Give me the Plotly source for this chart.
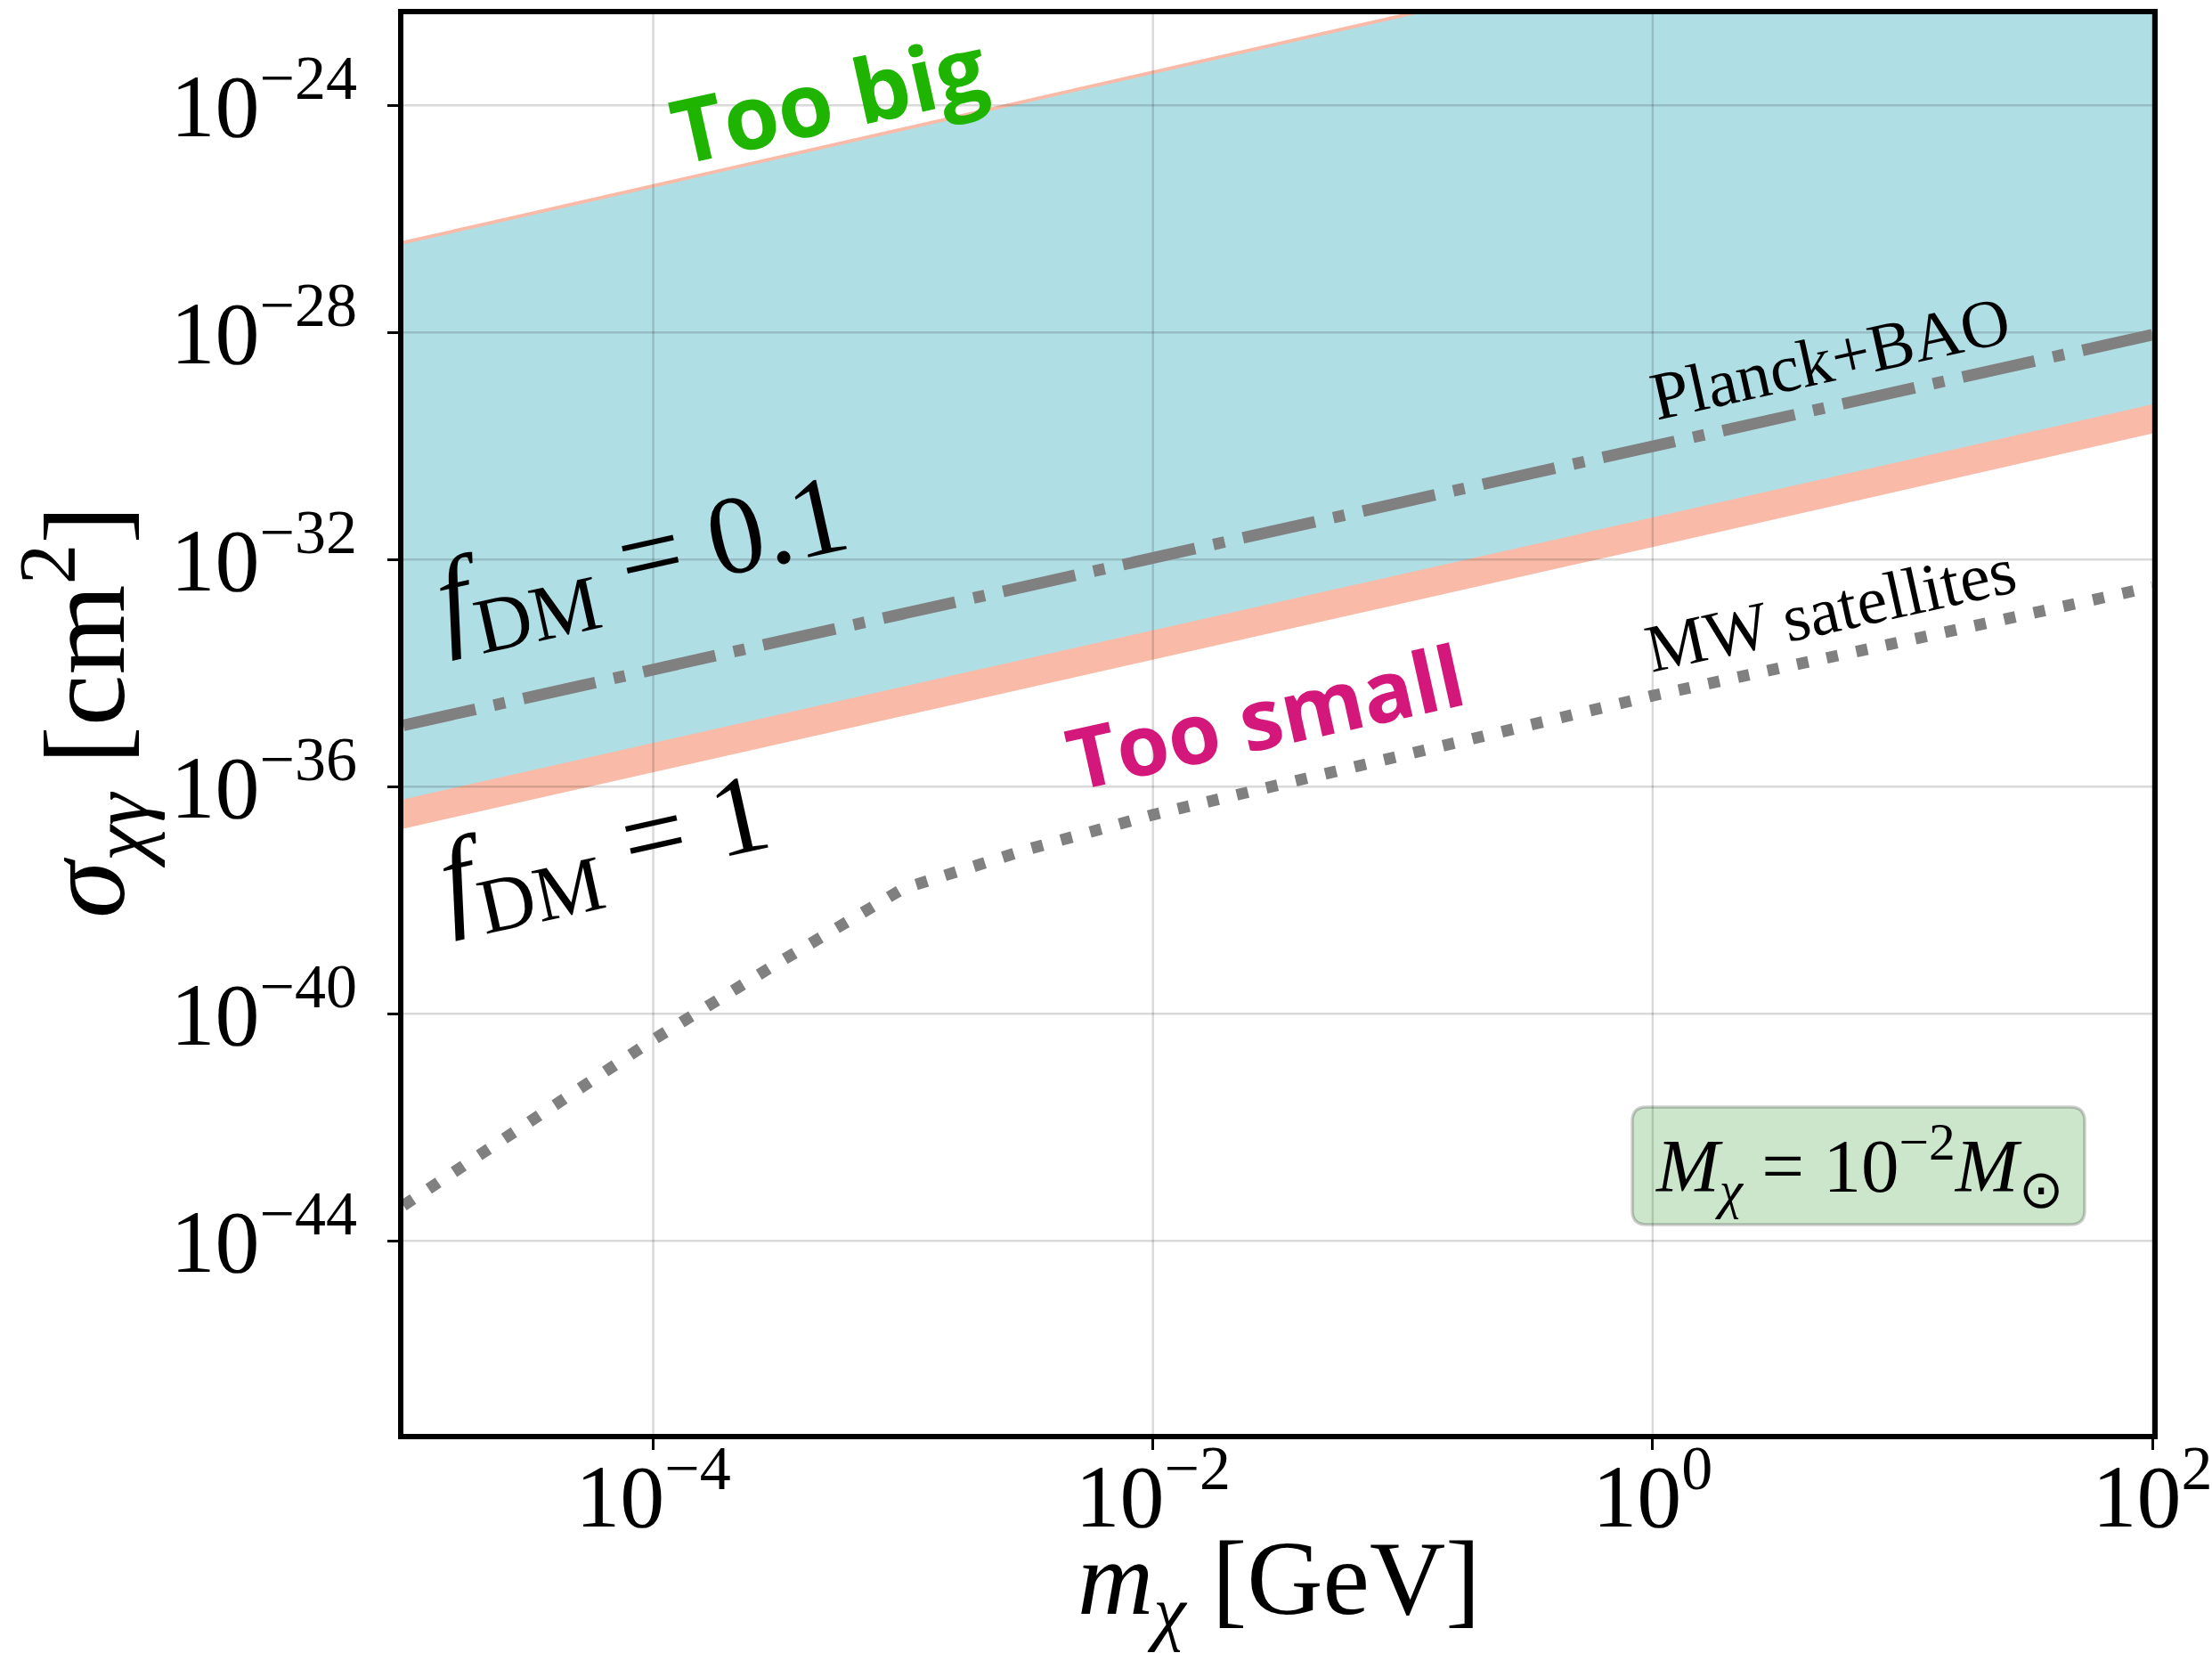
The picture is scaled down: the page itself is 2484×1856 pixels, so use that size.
import numpy as np
import plotly.graph_objects as go

# ---------------- data ----------------
# dark-matter particle mass grid [GeV]
m_chi = [1e-5, 1e-4, 1e-3, 1e-2, 1e-1, 1e0, 1e1, 1e2]

# allowed band for f_DM = 1 [cm^2]
sig_fdm1_low = [1.82e-37, 1.78e-36, 1.74e-35, 1.70e-34, 1.70e-33, 1.66e-32, 1.66e-31, 1.66e-30]
sig_fdm1_high = [4.1e-27, 4.1e-26, 4.1e-25, 4.1e-24, 4.1e-23, 4.1e-22, 4.1e-21, 4.1e-20]

# allowed band for f_DM = 0.1 [cm^2]
sig_fdm01_low = [6.0e-37, 5.9e-36, 5.75e-35, 5.6e-34, 5.6e-33, 5.5e-32, 5.4e-31, 5.4e-30]
sig_fdm01_high = [3.55e-27, 3.55e-26, 3.55e-25, 3.55e-24, 3.55e-23, 3.55e-22, 3.55e-21, 3.55e-20]

# Planck+BAO bound [cm^2]
sig_planck = [1.2e-35, 1.15e-34, 1.12e-33, 1.07e-32, 1.05e-31, 1.0e-30, 9.5e-30, 9.1e-29]

# Milky-Way satellites bound
m_mw = [1e-5, 1e-4, 3.16e-4, 1e-3, 3.16e-3, 1e-2, 1e-1, 1e0, 1e1, 1e2]
sig_mw = [4.2e-44, 3.5e-41, 7.9e-40, 1.6e-38, 7.9e-38, 3.2e-37, 3.55e-36, 4.0e-35, 3.6e-34, 3.3e-33]

# axes
x_tick_vals = [1e-4, 1e-2, 1e0, 1e2]
x_tick_text = ["10<sup>−4</sup>", "10<sup>−2</sup>", "10<sup>0</sup>", "10<sup>2</sup>"]
y_tick_vals = [1e-24, 1e-28, 1e-32, 1e-36, 1e-40, 1e-44]
y_tick_text = ["10<sup>−24</sup>", "10<sup>−28</sup>", "10<sup>−32</sup>",
               "10<sup>−36</sup>", "10<sup>−40</sup>", "10<sup>−44</sup>"]
x_lim = [1e-5, 1e2]
y_lim = [4e-48, 4e-23]

# ---------------- style ----------------
SERIF = "Liberation Serif, Times New Roman, serif"
SALMON = "#f9bba8"
BLUE = "#b0dee5"
GREY = "#808080"
GRID = "rgba(0,0,0,0.15)"

W, H = 2484, 1856
ML, MR, MT, MB = 453, 67, 16, 246
PW, PH = W - ML - MR, H - MT - MB

fig = go.Figure()

# f_DM = 1 band
fig.add_trace(go.Scatter(x=m_chi, y=sig_fdm1_low, mode="lines",
                         line=dict(width=0, color=SALMON), hoverinfo="skip"))
fig.add_trace(go.Scatter(x=m_chi, y=sig_fdm1_high, mode="lines", fill="tonexty",
                         fillcolor=SALMON, line=dict(width=0, color=SALMON), hoverinfo="skip"))

# f_DM = 0.1 band
fig.add_trace(go.Scatter(x=m_chi, y=sig_fdm01_low, mode="lines",
                         line=dict(width=0, color=BLUE), hoverinfo="skip"))
fig.add_trace(go.Scatter(x=m_chi, y=sig_fdm01_high, mode="lines", fill="tonexty",
                         fillcolor=BLUE, line=dict(width=0, color=BLUE), hoverinfo="skip"))

# grid drawn over the filled bands
for xv in x_tick_vals:
    fig.add_trace(go.Scatter(x=[xv, xv], y=y_lim, mode="lines",
                             line=dict(color=GRID, width=2.5), hoverinfo="skip"))
for yv in y_tick_vals:
    fig.add_trace(go.Scatter(x=x_lim, y=[yv, yv], mode="lines",
                             line=dict(color=GRID, width=2.5), hoverinfo="skip"))

# constraints
fig.add_trace(go.Scatter(x=m_chi, y=sig_planck, mode="lines",
                         line=dict(color=GREY, width=13, dash="83px,21px,13px,21px"),
                         hoverinfo="skip"))
fig.add_trace(go.Scatter(x=m_mw, y=sig_mw, mode="lines",
                         line=dict(color=GREY, width=13, dash="13px,21px"),
                         hoverinfo="skip"))

axis_common = dict(type="log", showgrid=False, zeroline=False,
                   showline=True, linecolor="black", linewidth=6, mirror=True,
                   ticks="outside", ticklen=12, tickwidth=2.5, tickcolor="black",
                   tickfont=dict(family=SERIF, size=100, color="black"),
                   ticklabeloverflow="allow", automargin=False)

fig.update_xaxes(range=[np.log10(x_lim[0]), np.log10(x_lim[1])],
                 tickvals=x_tick_vals, ticktext=x_tick_text,
                 ticklabelstandoff=-34, **axis_common)
fig.update_yaxes(range=[np.log10(y_lim[0]), np.log10(y_lim[1])],
                 tickvals=y_tick_vals, ticktext=y_tick_text,
                 ticklabelstandoff=14, **axis_common)


def px_to_paper(px, py):
    return (px - ML) / PW, (H - MB - py) / PH


annotations = []

# axis titles
tx, ty = px_to_paper(1436, 1781)
annotations.append(dict(text="<i>m</i><sub><i>χ</i></sub> [GeV]", x=tx, y=ty,
                        xref="paper", yref="paper", showarrow=False,
                        xanchor="center", yanchor="middle", borderpad=0,
                        font=dict(family=SERIF, size=118, color="black")))
tx, ty = px_to_paper(95, 800)
annotations.append(dict(text="<i>σ</i><sub><i>χγ</i></sub> [cm<sup>2</sup>]", x=tx, y=ty,
                        xref="paper", yref="paper", showarrow=False, textangle=-90,
                        xanchor="center", yanchor="middle",
                        font=dict(family=SERIF, size=130, color="black")))

ANG = -12.5
# region labels (positions in log10 data units)
annotations += [
    dict(text="Too big", x=-3.30, y=-23.85, textangle=ANG,
         font=dict(family="Open Sans", size=100, color="#1eb400", weight=700)),
    dict(text="Too small", x=-1.55, y=-34.74, textangle=ANG,
         font=dict(family="Open Sans", size=95, color="#d4177a", weight=700)),
    dict(text="<i>f</i><sub>DM</sub> = 0.1", x=-4.04, y=-32.07, textangle=ANG,
         font=dict(family=SERIF, size=126, color="black")),
    dict(text="<i>f</i><sub>DM</sub> = 1", x=-4.19, y=-37.17, textangle=ANG,
         font=dict(family=SERIF, size=126, color="black")),
    dict(text="Planck+BAO", x=0.71, y=-28.45, textangle=ANG,
         font=dict(family=SERIF, size=76, color="black")),
    dict(text="MW satellites", x=0.71, y=-32.87, textangle=ANG,
         font=dict(family=SERIF, size=76, color="black")),
]
for a in annotations[2:]:
    a.update(xref="x", yref="y", showarrow=False, xanchor="center", yanchor="middle")

# mass label inside a rounded box
bx0, by0 = px_to_paper(1833, 1375)
bx1, by1 = px_to_paper(2341, 1243)
rx, ry = 16 / PW, 16 / PH
box_path = (f"M {bx0+rx},{by0} L {bx1-rx},{by0} Q {bx1},{by0} {bx1},{by0+ry} "
            f"L {bx1},{by1-ry} Q {bx1},{by1} {bx1-rx},{by1} "
            f"L {bx0+rx},{by1} Q {bx0},{by1} {bx0},{by1-ry} "
            f"L {bx0},{by0+ry} Q {bx0},{by0} {bx0+rx},{by0} Z")
fig.add_shape(type="path", path=box_path, xref="paper", yref="paper",
              fillcolor="rgba(0,128,0,0.2)", line=dict(color="rgba(0,0,0,0.2)", width=3.5),
              layer="above")
tx, ty = px_to_paper(2088, 1309)
annotations.append(dict(text="<i>M</i><sub><i>χ</i></sub> = 10<sup>−2</sup><i>M</i><sub>⊙</sub>",
                        x=tx, y=ty, xref="paper", yref="paper", showarrow=False,
                        xanchor="center", yanchor="middle",
                        font=dict(family=SERIF, size=85, color="black")))

fig.update_layout(width=W, height=H, template="none",
                  margin=dict(l=ML, r=MR, t=MT, b=MB),
                  plot_bgcolor="white", paper_bgcolor="white",
                  showlegend=False, annotations=annotations)

fig.write_html("out.html")
